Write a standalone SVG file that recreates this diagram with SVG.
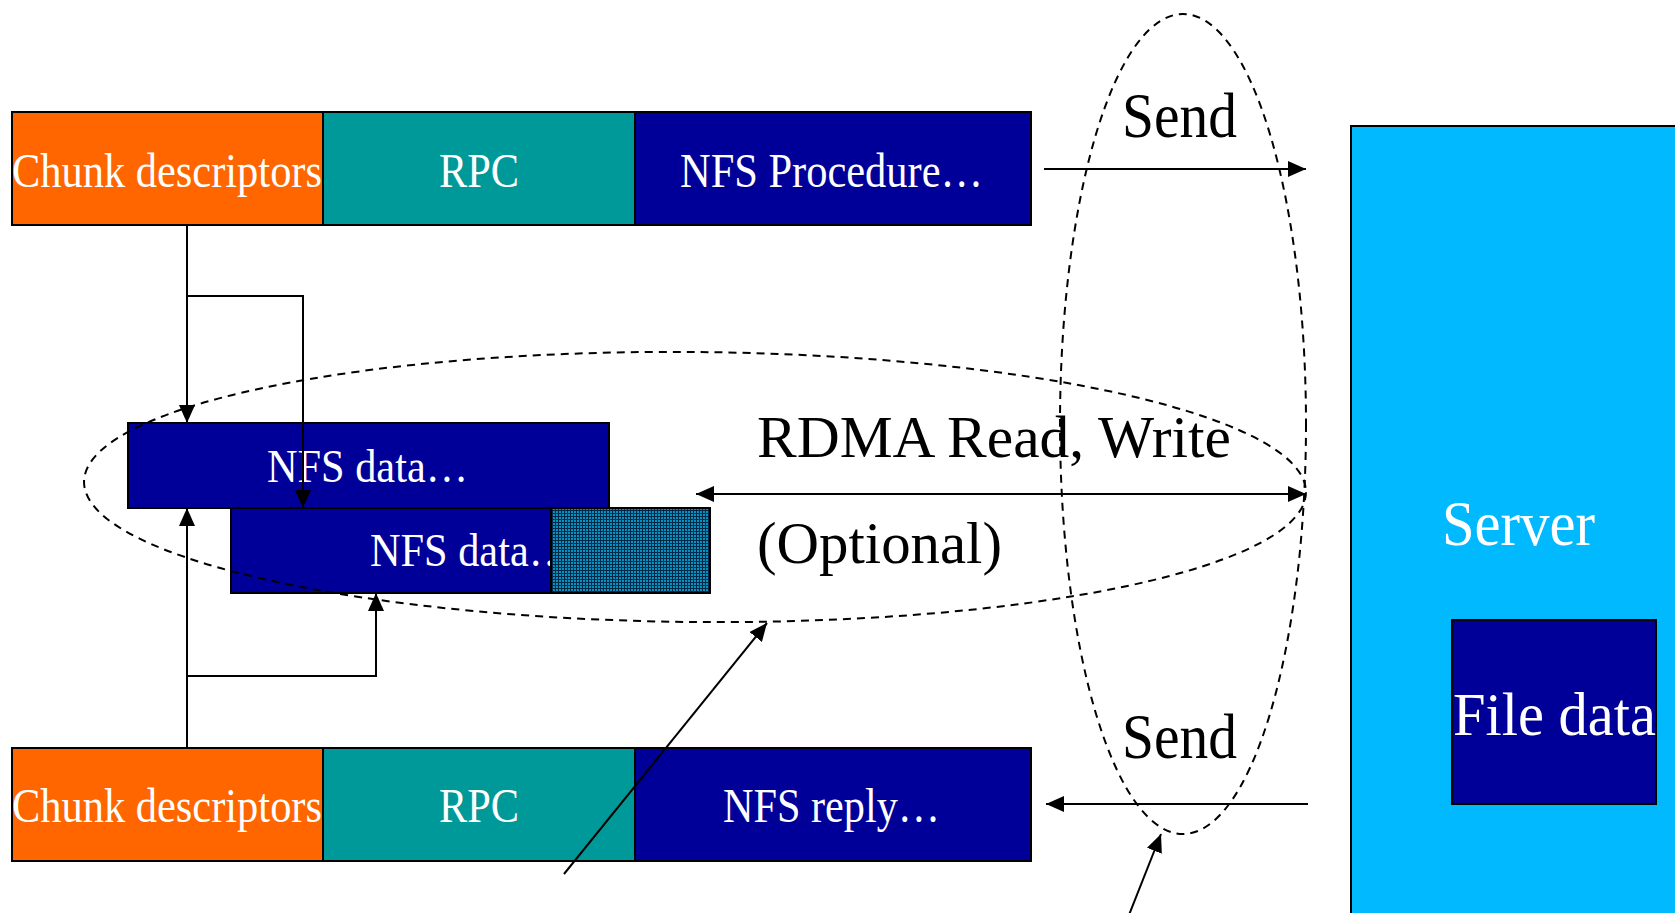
<svg xmlns="http://www.w3.org/2000/svg" width="1675" height="913" viewBox="0 0 1675 913">
  <defs>
    <style>
      .box{stroke:#000;stroke-width:2}
      .orange{fill:#FF6600}
      .teal{fill:#009999}
      .navy{fill:#000099}
      .sky{fill:#00B9FF}
      .lbl{font-family:"Liberation Serif","Times New Roman",serif;fill:#fff}
      .blk{font-family:"Liberation Serif","Times New Roman",serif;fill:#000}
      .wire{fill:none;stroke:#000;stroke-width:2}
      .dash{fill:none;stroke:#000;stroke-width:2;stroke-dasharray:8 6}
    </style>
    <marker id="ah" viewBox="0 0 18 16" refX="18" refY="8" markerWidth="18" markerHeight="16" markerUnits="userSpaceOnUse" orient="auto-start-reverse">
      <path d="M0,0 L18,8 L0,16 z" fill="#000"/>
    </marker>
    <pattern id="dots" width="3" height="3" patternUnits="userSpaceOnUse">
      <rect width="3" height="3" fill="#03284a"/>
      <rect x="1" y="1" width="2" height="2" fill="#0094be"/>
    </pattern>
  </defs>

  <!-- Server with its file data -->
  <g id="server">
    <rect class="box sky" x="1351" y="126" width="340" height="800"/>
    <text class="lbl" x="1442" y="545" font-size="64" textLength="153" lengthAdjust="spacingAndGlyphs">Server</text>
  </g>
  <g id="file-data">
    <rect class="box navy" x="1452" y="620" width="204" height="184"/>
    <text class="lbl" x="1453" y="735" font-size="62" textLength="203" lengthAdjust="spacingAndGlyphs">File data</text>
  </g>

  <!-- Call message -->
  <g id="call-chunks">
    <rect class="box orange" x="12" y="112" width="311" height="113"/>
    <text class="lbl" x="12" y="187" font-size="49" textLength="310" lengthAdjust="spacingAndGlyphs">Chunk descriptors</text>
  </g>
  <g id="call-rpc">
    <rect class="box teal" x="323" y="112" width="312" height="113"/>
    <text class="lbl" x="439" y="187" font-size="49" textLength="80" lengthAdjust="spacingAndGlyphs">RPC</text>
  </g>
  <g id="call-nfs">
    <rect class="box navy" x="635" y="112" width="396" height="113"/>
    <text class="lbl" x="680" y="187" font-size="49" textLength="303" lengthAdjust="spacingAndGlyphs">NFS Procedure…</text>
  </g>

  <!-- Reply message -->
  <g id="reply-chunks">
    <rect class="box orange" x="12" y="748" width="311" height="113"/>
    <text class="lbl" x="12" y="822" font-size="49" textLength="310" lengthAdjust="spacingAndGlyphs">Chunk descriptors</text>
  </g>
  <g id="reply-rpc">
    <rect class="box teal" x="323" y="748" width="312" height="113"/>
    <text class="lbl" x="439" y="822" font-size="49" textLength="80" lengthAdjust="spacingAndGlyphs">RPC</text>
  </g>
  <g id="reply-nfs">
    <rect class="box navy" x="635" y="748" width="396" height="113"/>
    <text class="lbl" x="723" y="822" font-size="49" textLength="217" lengthAdjust="spacingAndGlyphs">NFS reply…</text>
  </g>

  <!-- Data chunks -->
  <g id="data-1">
    <rect class="box navy" x="128" y="423" width="481" height="85"/>
    <text class="lbl" x="267" y="482" font-size="47" textLength="201" lengthAdjust="spacingAndGlyphs">NFS data…</text>
  </g>
  <g id="data-2">
    <rect class="box navy" x="231" y="508" width="479" height="85"/>
    <text class="lbl" x="370" y="566" font-size="47" textLength="201" lengthAdjust="spacingAndGlyphs">NFS data…</text>
    <rect class="box" fill="url(#dots)" x="551" y="508" width="159" height="85"/>
  </g>

  <!-- Labels -->
  <g id="labels">
    <text class="blk" x="1122" y="137" font-size="64" textLength="115" lengthAdjust="spacingAndGlyphs">Send</text>
    <text class="blk" x="1122" y="758" font-size="64" textLength="115" lengthAdjust="spacingAndGlyphs">Send</text>
    <text class="blk" x="757" y="457" font-size="60" textLength="474" lengthAdjust="spacingAndGlyphs">RDMA Read, Write</text>
    <text class="blk" x="757" y="563" font-size="60" textLength="245" lengthAdjust="spacingAndGlyphs">(Optional)</text>
  </g>

  <!-- Connectors -->
  <g id="connectors">
    <path class="wire" d="M187,225 V423" marker-end="url(#ah)"/>
    <path class="wire" d="M187,296 H303 V508" marker-end="url(#ah)"/>
    <path class="wire" d="M187,748 V508" marker-end="url(#ah)"/>
    <path class="wire" d="M187,676 H376 V593" marker-end="url(#ah)"/>
    <path class="wire" d="M1044,169 H1306" marker-end="url(#ah)"/>
    <path class="wire" d="M1308,804 H1046" marker-end="url(#ah)"/>
    <path class="wire" d="M696,494 H1306" marker-start="url(#ah)" marker-end="url(#ah)"/>
    <path class="wire" d="M564,874 L767,623" marker-end="url(#ah)"/>
    <path class="wire" d="M1127,920 L1161,834" marker-end="url(#ah)"/>
    <ellipse class="dash" cx="1183" cy="424" rx="123" ry="410"/>
    <ellipse class="dash" cx="695" cy="487" rx="611" ry="135" transform="rotate(0.5 695 487)"/>
  </g>
</svg>
